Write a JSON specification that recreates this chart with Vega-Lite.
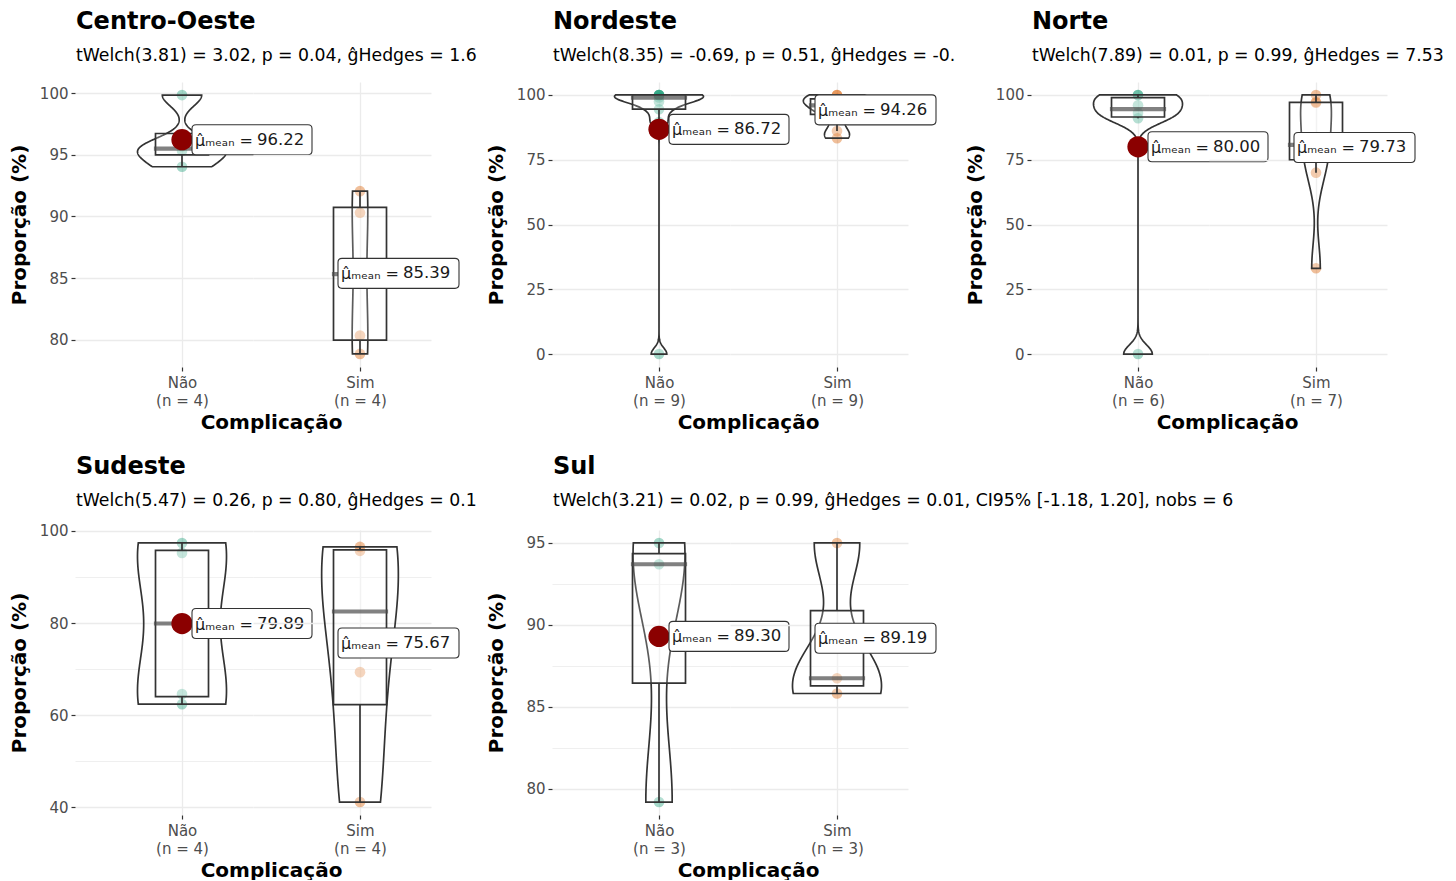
{
  "$schema": "https://vega.github.io/schema/vega-lite/v6.json",
  "padding": {"left": 9, "top": 9, "right": 0, "bottom": 0},
  "spacing": 22,
  "datasets": {
    "pts": [
      {"region": "Centro-Oeste", "grp": "Não", "value": 94.03},
      {"region": "Centro-Oeste", "grp": "Não", "value": 95.32},
      {"region": "Centro-Oeste", "grp": "Não", "value": 95.69},
      {"region": "Centro-Oeste", "grp": "Não", "value": 99.84},
      {"region": "Centro-Oeste", "grp": "Sim", "value": 78.86},
      {"region": "Centro-Oeste", "grp": "Sim", "value": 80.35},
      {"region": "Centro-Oeste", "grp": "Sim", "value": 90.30},
      {"region": "Centro-Oeste", "grp": "Sim", "value": 92.05},
      {"region": "Nordeste", "grp": "Não", "value": 0},
      {"region": "Nordeste", "grp": "Não", "value": 89.5},
      {"region": "Nordeste", "grp": "Não", "value": 94.5},
      {"region": "Nordeste", "grp": "Não", "value": 97.5},
      {"region": "Nordeste", "grp": "Não", "value": 99},
      {"region": "Nordeste", "grp": "Não", "value": 100},
      {"region": "Nordeste", "grp": "Não", "value": 100},
      {"region": "Nordeste", "grp": "Não", "value": 100},
      {"region": "Nordeste", "grp": "Não", "value": 100},
      {"region": "Nordeste", "grp": "Sim", "value": 83.3},
      {"region": "Nordeste", "grp": "Sim", "value": 86.04},
      {"region": "Nordeste", "grp": "Sim", "value": 92.5},
      {"region": "Nordeste", "grp": "Sim", "value": 94.5},
      {"region": "Nordeste", "grp": "Sim", "value": 96},
      {"region": "Nordeste", "grp": "Sim", "value": 97.5},
      {"region": "Nordeste", "grp": "Sim", "value": 98.5},
      {"region": "Nordeste", "grp": "Sim", "value": 100},
      {"region": "Nordeste", "grp": "Sim", "value": 100},
      {"region": "Norte", "grp": "Não", "value": 0},
      {"region": "Norte", "grp": "Não", "value": 91},
      {"region": "Norte", "grp": "Não", "value": 93},
      {"region": "Norte", "grp": "Não", "value": 96},
      {"region": "Norte", "grp": "Não", "value": 100},
      {"region": "Norte", "grp": "Não", "value": 100},
      {"region": "Norte", "grp": "Sim", "value": 33.1},
      {"region": "Norte", "grp": "Sim", "value": 70},
      {"region": "Norte", "grp": "Sim", "value": 80},
      {"region": "Norte", "grp": "Sim", "value": 80.7},
      {"region": "Norte", "grp": "Sim", "value": 97},
      {"region": "Norte", "grp": "Sim", "value": 97.3},
      {"region": "Norte", "grp": "Sim", "value": 100},
      {"region": "Sudeste", "grp": "Não", "value": 62.4},
      {"region": "Sudeste", "grp": "Não", "value": 64.6},
      {"region": "Sudeste", "grp": "Não", "value": 95.2},
      {"region": "Sudeste", "grp": "Não", "value": 97.36},
      {"region": "Sudeste", "grp": "Sim", "value": 41.18},
      {"region": "Sudeste", "grp": "Sim", "value": 69.35},
      {"region": "Sudeste", "grp": "Sim", "value": 95.65},
      {"region": "Sudeste", "grp": "Sim", "value": 96.5},
      {"region": "Sul", "grp": "Não", "value": 79.2},
      {"region": "Sul", "grp": "Não", "value": 93.7},
      {"region": "Sul", "grp": "Não", "value": 95.0},
      {"region": "Sul", "grp": "Sim", "value": 85.82},
      {"region": "Sul", "grp": "Sim", "value": 86.75},
      {"region": "Sul", "grp": "Sim", "value": 95.0}
    ]
  },
  "vconcat": [
    {
      "spacing": 9,
      "hconcat": [
        {
          "data": {"name": "pts"},
          "title": {"text": "Centro-Oeste", "subtitle": "tWelch(3.81) = 3.02, p = 0.04, ĝHedges = 1.6", "limit": 404, "dx": -17},
          "bounds": "flush",
          "spacing": 0,
          "hconcat": [
            {
              "width": 178, "height": 285,
              "transform": [{"filter": "datum.region === 'Centro-Oeste' && datum.grp === 'Não'"}],
              "layer": [
                {"mark": {"type": "point", "filled": true, "size": 113, "opacity": 0.4, "color": "#1B9E77"},
                 "encoding": {"y": {"field": "value", "type": "quantitative", "title": "Proporção (%)", "scale": {"domain": [77.8, 100.9], "nice": false, "zero": false},
                   "axis": {"values": [80, 82.5, 85, 87.5, 90, 92.5, 95, 97.5, 100], "labelExpr": "datum.value % 5 === 0 ? datum.label : ''", "tickOpacity": {"condition": {"test": "datum.value % 5 !== 0", "value": 0}, "value": 1}, "gridWidth": {"condition": {"test": "datum.value % 5 !== 0", "value": 0.8}, "value": 1.3}}}}},
                {"transform": [{"density": "value", "groupby": ["grp"], "bandwidth": 0.88, "extent": [94.03, 99.84], "steps": 200}],
                 "mark": {"type": "area", "orient": "horizontal", "fill": "white", "fillOpacity": 0.2, "stroke": "#333333", "strokeWidth": 1.7},
                 "encoding": {"y": {"field": "value", "type": "quantitative", "title": "Proporção (%)"},
                   "x": {"field": "density", "type": "quantitative", "stack": "center", "impute": null, "scale": {"padding": 44.5, "nice": false}, "axis": {"values": [0.1282], "labelExpr": "['Não', '(n = 4)']", "title": "Complicação", "titleX": 178}}}},
                {"mark": {"type": "boxplot", "extent": 1.5, "size": 53, "outliers": false, "box": {"fill": "white", "fillOpacity": 0.2, "stroke": "#333333", "strokeWidth": 1.7}, "median": {"stroke": "#4D4D4D", "strokeWidth": 3.2}, "rule": {"stroke": "#333333", "strokeWidth": 1.7}},
                 "encoding": {"y": {"field": "value", "type": "quantitative", "title": "Proporção (%)"}}},
                {"mark": {"type": "point", "filled": true, "color": "#8B0000", "size": 452, "opacity": 1},
                 "encoding": {"y": {"aggregate": "mean", "field": "value", "type": "quantitative", "title": "Proporção (%)"}}},
                {"mark": {"type": "point", "shape": "M0.28,-0.3H2.52Q2.6,-0.3 2.6,-0.22V0.22Q2.6,0.3 2.52,0.3H0.28Q0.2,0.3 0.2,0.22V-0.22Q0.2,-0.3 0.28,-0.3Z", "size": 10000, "filled": true, "fill": "white", "stroke": "#333333", "strokeWidth": 1.1, "opacity": 1},
                 "encoding": {"y": {"aggregate": "mean", "field": "value", "type": "quantitative", "title": "Proporção (%)"}}},
                {"mark": {"type": "text", "text": "μ̂ₘₑₐₙ =", "align": "right", "dx": 71, "dy": 1, "fontSize": 16, "color": "#1A1A1A"},
                 "encoding": {"y": {"aggregate": "mean", "field": "value", "type": "quantitative", "title": "Proporção (%)"}}},
                {"mark": {"type": "text", "align": "left", "dx": 75, "fontSize": 16.5, "color": "#1A1A1A"},
                 "encoding": {"y": {"aggregate": "mean", "field": "value", "type": "quantitative", "title": "Proporção (%)"}, "text": {"aggregate": "mean", "field": "value", "type": "quantitative", "format": ".2f"}}}
              ]
            },
            {
              "width": 178, "height": 285,
              "transform": [{"filter": "datum.region === 'Centro-Oeste' && datum.grp === 'Sim'"}],
              "layer": [
                {"mark": {"type": "point", "filled": true, "size": 113, "opacity": 0.4, "color": "#D95F02"},
                 "encoding": {"y": {"field": "value", "type": "quantitative", "title": null, "scale": {"domain": [77.8, 100.9], "nice": false, "zero": false},
                   "axis": {"values": [80, 82.5, 85, 87.5, 90, 92.5, 95, 97.5, 100], "labels": false, "ticks": false, "gridWidth": {"condition": {"test": "datum.value % 5 !== 0", "value": 0.8}, "value": 1.3}}}}},
                {"transform": [{"density": "value", "groupby": ["grp"], "bandwidth": 4.6, "extent": [78.86, 92.05], "steps": 200}],
                 "mark": {"type": "area", "orient": "horizontal", "fill": "white", "fillOpacity": 0.2, "stroke": "#333333", "strokeWidth": 1.7},
                 "encoding": {"y": {"field": "value", "type": "quantitative", "title": null},
                   "x": {"field": "density", "type": "quantitative", "stack": "center", "impute": null, "scale": {"padding": 81.16, "nice": false}, "axis": {"values": [0.0226], "labelExpr": "['Sim', '(n = 4)']", "title": null}}}},
                {"mark": {"type": "boxplot", "extent": 1.5, "size": 53, "outliers": false, "box": {"fill": "white", "fillOpacity": 0.2, "stroke": "#333333", "strokeWidth": 1.7}, "median": {"stroke": "#4D4D4D", "strokeWidth": 3.2}, "rule": {"stroke": "#333333", "strokeWidth": 1.7}},
                 "encoding": {"y": {"field": "value", "type": "quantitative", "title": null}}},
                {"mark": {"type": "point", "filled": true, "color": "#8B0000", "size": 452, "opacity": 1},
                 "encoding": {"y": {"aggregate": "mean", "field": "value", "type": "quantitative", "title": null}}},
                {"mark": {"type": "point", "shape": "M-0.36,-0.3H1.9Q1.98,-0.3 1.98,-0.22V0.22Q1.98,0.3 1.9,0.3H-0.36Q-0.44,0.3 -0.44,0.22V-0.22Q-0.44,-0.3 -0.36,-0.3Z", "size": 10000, "filled": true, "fill": "white", "stroke": "#333333", "strokeWidth": 1.1, "opacity": 1},
                 "encoding": {"y": {"aggregate": "mean", "field": "value", "type": "quantitative", "title": null}}},
                {"mark": {"type": "text", "text": "μ̂ₘₑₐₙ =", "align": "right", "dx": 39, "dy": 1, "fontSize": 16, "color": "#1A1A1A"},
                 "encoding": {"y": {"aggregate": "mean", "field": "value", "type": "quantitative", "title": null}}},
                {"mark": {"type": "text", "align": "left", "dx": 43, "fontSize": 16.5, "color": "#1A1A1A"},
                 "encoding": {"y": {"aggregate": "mean", "field": "value", "type": "quantitative", "title": null}, "text": {"aggregate": "mean", "field": "value", "type": "quantitative", "format": ".2f"}}}
              ]
            }
          ]
        },
        {
          "data": {"name": "pts"},
          "title": {"text": "Nordeste", "subtitle": "tWelch(8.35) = -0.69, p = 0.51, ĝHedges = -0.", "limit": 404, "dx": -17},
          "bounds": "flush",
          "spacing": 0,
          "hconcat": [
            {
              "width": 178, "height": 285,
              "transform": [{"filter": "datum.region === 'Nordeste' && datum.grp === 'Não'"}],
              "layer": [
                {"mark": {"type": "point", "filled": true, "size": 113, "opacity": 0.4, "color": "#1B9E77"},
                 "encoding": {"y": {"field": "value", "type": "quantitative", "title": "Proporção (%)", "scale": {"domain": [-5, 105], "nice": false, "zero": false},
                   "axis": {"values": [0, 12.5, 25, 37.5, 50, 62.5, 75, 87.5, 100], "labelExpr": "datum.value % 25 === 0 ? datum.label : ''", "tickOpacity": {"condition": {"test": "datum.value % 25 !== 0", "value": 0}, "value": 1}, "gridWidth": {"condition": {"test": "datum.value % 25 !== 0", "value": 0.8}, "value": 1.3}}}}},
                {"transform": [{"density": "value", "groupby": ["grp"], "bandwidth": 2.38, "extent": [0, 100], "steps": 500}],
                 "mark": {"type": "area", "orient": "horizontal", "fill": "white", "fillOpacity": 0.2, "stroke": "#333333", "strokeWidth": 1.7},
                 "encoding": {"y": {"field": "value", "type": "quantitative", "title": "Proporção (%)"},
                   "x": {"field": "density", "type": "quantitative", "stack": "center", "impute": null, "scale": {"padding": 44.5, "nice": false}, "axis": {"values": [0.0532], "labelExpr": "['Não', '(n = 9)']", "title": "Complicação", "titleX": 178}}}},
                {"mark": {"type": "boxplot", "extent": 1.5, "size": 53, "outliers": false, "box": {"fill": "white", "fillOpacity": 0.2, "stroke": "#333333", "strokeWidth": 1.7}, "median": {"stroke": "#4D4D4D", "strokeWidth": 3.2}, "rule": {"stroke": "#333333", "strokeWidth": 1.7}},
                 "encoding": {"y": {"field": "value", "type": "quantitative", "title": "Proporção (%)"}}},
                {"mark": {"type": "point", "filled": true, "color": "#8B0000", "size": 452, "opacity": 1},
                 "encoding": {"y": {"aggregate": "mean", "field": "value", "type": "quantitative", "title": "Proporção (%)"}}},
                {"mark": {"type": "point", "shape": "M0.28,-0.3H2.52Q2.6,-0.3 2.6,-0.22V0.22Q2.6,0.3 2.52,0.3H0.28Q0.2,0.3 0.2,0.22V-0.22Q0.2,-0.3 0.28,-0.3Z", "size": 10000, "filled": true, "fill": "white", "stroke": "#333333", "strokeWidth": 1.1, "opacity": 1},
                 "encoding": {"y": {"aggregate": "mean", "field": "value", "type": "quantitative", "title": "Proporção (%)"}}},
                {"mark": {"type": "text", "text": "μ̂ₘₑₐₙ =", "align": "right", "dx": 71, "dy": 1, "fontSize": 16, "color": "#1A1A1A"},
                 "encoding": {"y": {"aggregate": "mean", "field": "value", "type": "quantitative", "title": "Proporção (%)"}}},
                {"mark": {"type": "text", "align": "left", "dx": 75, "fontSize": 16.5, "color": "#1A1A1A"},
                 "encoding": {"y": {"aggregate": "mean", "field": "value", "type": "quantitative", "title": "Proporção (%)"}, "text": {"aggregate": "mean", "field": "value", "type": "quantitative", "format": ".2f"}}}
              ]
            },
            {
              "width": 178, "height": 285,
              "transform": [{"filter": "datum.region === 'Nordeste' && datum.grp === 'Sim'"}],
              "layer": [
                {"mark": {"type": "point", "filled": true, "size": 113, "opacity": 0.4, "color": "#D95F02"},
                 "encoding": {"y": {"field": "value", "type": "quantitative", "title": null, "scale": {"domain": [-5, 105], "nice": false, "zero": false},
                   "axis": {"values": [0, 12.5, 25, 37.5, 50, 62.5, 75, 87.5, 100], "labels": false, "ticks": false, "gridWidth": {"condition": {"test": "datum.value % 25 !== 0", "value": 0.8}, "value": 1.3}}}}},
                {"transform": [{"density": "value", "groupby": ["grp"], "bandwidth": 2.6, "extent": [83.3, 100], "steps": 200}],
                 "mark": {"type": "area", "orient": "horizontal", "fill": "white", "fillOpacity": 0.2, "stroke": "#333333", "strokeWidth": 1.7},
                 "encoding": {"y": {"field": "value", "type": "quantitative", "title": null},
                   "x": {"field": "density", "type": "quantitative", "stack": "center", "impute": null, "scale": {"padding": 55.35, "nice": false}, "axis": {"values": [0.04025], "labelExpr": "['Sim', '(n = 9)']", "title": null}}}},
                {"mark": {"type": "boxplot", "extent": 1.5, "size": 53, "outliers": false, "box": {"fill": "white", "fillOpacity": 0.2, "stroke": "#333333", "strokeWidth": 1.7}, "median": {"stroke": "#4D4D4D", "strokeWidth": 3.2}, "rule": {"stroke": "#333333", "strokeWidth": 1.7}},
                 "encoding": {"y": {"field": "value", "type": "quantitative", "title": null}}},
                {"mark": {"type": "point", "filled": true, "color": "#8B0000", "size": 452, "opacity": 1},
                 "encoding": {"y": {"aggregate": "mean", "field": "value", "type": "quantitative", "title": null}}},
                {"mark": {"type": "point", "shape": "M-0.36,-0.3H1.9Q1.98,-0.3 1.98,-0.22V0.22Q1.98,0.3 1.9,0.3H-0.36Q-0.44,0.3 -0.44,0.22V-0.22Q-0.44,-0.3 -0.36,-0.3Z", "size": 10000, "filled": true, "fill": "white", "stroke": "#333333", "strokeWidth": 1.1, "opacity": 1},
                 "encoding": {"y": {"aggregate": "mean", "field": "value", "type": "quantitative", "title": null}}},
                {"mark": {"type": "text", "text": "μ̂ₘₑₐₙ =", "align": "right", "dx": 39, "dy": 1, "fontSize": 16, "color": "#1A1A1A"},
                 "encoding": {"y": {"aggregate": "mean", "field": "value", "type": "quantitative", "title": null}}},
                {"mark": {"type": "text", "align": "left", "dx": 43, "fontSize": 16.5, "color": "#1A1A1A"},
                 "encoding": {"y": {"aggregate": "mean", "field": "value", "type": "quantitative", "title": null}, "text": {"aggregate": "mean", "field": "value", "type": "quantitative", "format": ".2f"}}}
              ]
            }
          ]
        },
        {
          "data": {"name": "pts"},
          "title": {"text": "Norte", "subtitle": "tWelch(7.89) = 0.01, p = 0.99, ĝHedges = 7.53", "limit": 430, "dx": -17},
          "bounds": "flush",
          "spacing": 0,
          "hconcat": [
            {
              "width": 178, "height": 285,
              "transform": [{"filter": "datum.region === 'Norte' && datum.grp === 'Não'"}],
              "layer": [
                {"mark": {"type": "point", "filled": true, "size": 113, "opacity": 0.4, "color": "#1B9E77"},
                 "encoding": {"y": {"field": "value", "type": "quantitative", "title": "Proporção (%)", "scale": {"domain": [-5, 105], "nice": false, "zero": false},
                   "axis": {"values": [0, 12.5, 25, 37.5, 50, 62.5, 75, 87.5, 100], "labelExpr": "datum.value % 25 === 0 ? datum.label : ''", "tickOpacity": {"condition": {"test": "datum.value % 25 !== 0", "value": 0}, "value": 1}, "gridWidth": {"condition": {"test": "datum.value % 25 !== 0", "value": 0.8}, "value": 1.3}}}}},
                {"transform": [{"density": "value", "groupby": ["grp"], "bandwidth": 3.52, "extent": [0, 100], "steps": 400}],
                 "mark": {"type": "area", "orient": "horizontal", "fill": "white", "fillOpacity": 0.2, "stroke": "#333333", "strokeWidth": 1.7},
                 "encoding": {"y": {"field": "value", "type": "quantitative", "title": "Proporção (%)"},
                   "x": {"field": "density", "type": "quantitative", "stack": "center", "impute": null, "scale": {"padding": 44.5, "nice": false}, "axis": {"values": [0.02945], "labelExpr": "['Não', '(n = 6)']", "title": "Complicação", "titleX": 178}}}},
                {"mark": {"type": "boxplot", "extent": 1.5, "size": 53, "outliers": false, "box": {"fill": "white", "fillOpacity": 0.2, "stroke": "#333333", "strokeWidth": 1.7}, "median": {"stroke": "#4D4D4D", "strokeWidth": 3.2}, "rule": {"stroke": "#333333", "strokeWidth": 1.7}},
                 "encoding": {"y": {"field": "value", "type": "quantitative", "title": "Proporção (%)"}}},
                {"mark": {"type": "point", "filled": true, "color": "#8B0000", "size": 452, "opacity": 1},
                 "encoding": {"y": {"aggregate": "mean", "field": "value", "type": "quantitative", "title": "Proporção (%)"}}},
                {"mark": {"type": "point", "shape": "M0.28,-0.3H2.52Q2.6,-0.3 2.6,-0.22V0.22Q2.6,0.3 2.52,0.3H0.28Q0.2,0.3 0.2,0.22V-0.22Q0.2,-0.3 0.28,-0.3Z", "size": 10000, "filled": true, "fill": "white", "stroke": "#333333", "strokeWidth": 1.1, "opacity": 1},
                 "encoding": {"y": {"aggregate": "mean", "field": "value", "type": "quantitative", "title": "Proporção (%)"}}},
                {"mark": {"type": "text", "text": "μ̂ₘₑₐₙ =", "align": "right", "dx": 71, "dy": 1, "fontSize": 16, "color": "#1A1A1A"},
                 "encoding": {"y": {"aggregate": "mean", "field": "value", "type": "quantitative", "title": "Proporção (%)"}}},
                {"mark": {"type": "text", "align": "left", "dx": 75, "fontSize": 16.5, "color": "#1A1A1A"},
                 "encoding": {"y": {"aggregate": "mean", "field": "value", "type": "quantitative", "title": "Proporção (%)"}, "text": {"aggregate": "mean", "field": "value", "type": "quantitative", "format": ".2f"}}}
              ]
            },
            {
              "width": 178, "height": 285,
              "transform": [{"filter": "datum.region === 'Norte' && datum.grp === 'Sim'"}],
              "layer": [
                {"mark": {"type": "point", "filled": true, "size": 113, "opacity": 0.4, "color": "#D95F02"},
                 "encoding": {"y": {"field": "value", "type": "quantitative", "title": null, "scale": {"domain": [-5, 105], "nice": false, "zero": false},
                   "axis": {"values": [0, 12.5, 25, 37.5, 50, 62.5, 75, 87.5, 100], "labels": false, "ticks": false, "gridWidth": {"condition": {"test": "datum.value % 25 !== 0", "value": 0.8}, "value": 1.3}}}}},
                {"transform": [{"density": "value", "groupby": ["grp"], "bandwidth": 10.07, "extent": [33.1, 100], "steps": 200}],
                 "mark": {"type": "area", "orient": "horizontal", "fill": "white", "fillOpacity": 0.2, "stroke": "#333333", "strokeWidth": 1.7},
                 "encoding": {"y": {"field": "value", "type": "quantitative", "title": null},
                   "x": {"field": "density", "type": "quantitative", "stack": "center", "impute": null, "scale": {"padding": 73.6, "nice": false}, "axis": {"values": [0.0102], "labelExpr": "['Sim', '(n = 7)']", "title": null}}}},
                {"mark": {"type": "boxplot", "extent": 1.5, "size": 53, "outliers": false, "box": {"fill": "white", "fillOpacity": 0.2, "stroke": "#333333", "strokeWidth": 1.7}, "median": {"stroke": "#4D4D4D", "strokeWidth": 3.2}, "rule": {"stroke": "#333333", "strokeWidth": 1.7}},
                 "encoding": {"y": {"field": "value", "type": "quantitative", "title": null}}},
                {"mark": {"type": "point", "filled": true, "color": "#8B0000", "size": 452, "opacity": 1},
                 "encoding": {"y": {"aggregate": "mean", "field": "value", "type": "quantitative", "title": null}}},
                {"mark": {"type": "point", "shape": "M-0.36,-0.3H1.9Q1.98,-0.3 1.98,-0.22V0.22Q1.98,0.3 1.9,0.3H-0.36Q-0.44,0.3 -0.44,0.22V-0.22Q-0.44,-0.3 -0.36,-0.3Z", "size": 10000, "filled": true, "fill": "white", "stroke": "#333333", "strokeWidth": 1.1, "opacity": 1},
                 "encoding": {"y": {"aggregate": "mean", "field": "value", "type": "quantitative", "title": null}}},
                {"mark": {"type": "text", "text": "μ̂ₘₑₐₙ =", "align": "right", "dx": 39, "dy": 1, "fontSize": 16, "color": "#1A1A1A"},
                 "encoding": {"y": {"aggregate": "mean", "field": "value", "type": "quantitative", "title": null}}},
                {"mark": {"type": "text", "align": "left", "dx": 43, "fontSize": 16.5, "color": "#1A1A1A"},
                 "encoding": {"y": {"aggregate": "mean", "field": "value", "type": "quantitative", "title": null}, "text": {"aggregate": "mean", "field": "value", "type": "quantitative", "format": ".2f"}}}
              ]
            }
          ]
        }
      ]
    },
    {
      "spacing": 9,
      "hconcat": [
        {
          "data": {"name": "pts"},
          "title": {"text": "Sudeste", "subtitle": "tWelch(5.47) = 0.26, p = 0.80, ĝHedges = 0.1", "limit": 404, "dx": -17, "dy": 4},
          "bounds": "flush",
          "spacing": 0,
          "hconcat": [
            {
              "width": 178, "height": 285,
              "transform": [{"filter": "datum.region === 'Sudeste' && datum.grp === 'Não'"}],
              "layer": [
                {"mark": {"type": "point", "filled": true, "size": 113, "opacity": 0.4, "color": "#1B9E77"},
                 "encoding": {"y": {"field": "value", "type": "quantitative", "title": "Proporção (%)", "scale": {"domain": [38.37, 100.17], "nice": false, "zero": false},
                   "axis": {"values": [40, 50, 60, 70, 80, 90, 100], "labelExpr": "datum.value % 20 === 0 ? datum.label : ''", "tickOpacity": {"condition": {"test": "datum.value % 20 !== 0", "value": 0}, "value": 1}, "gridWidth": {"condition": {"test": "datum.value % 20 !== 0", "value": 0.8}, "value": 1.3}}}}},
                {"transform": [{"density": "value", "groupby": ["grp"], "bandwidth": 12.95, "extent": [62.4, 97.36], "steps": 200}],
                 "mark": {"type": "area", "orient": "horizontal", "fill": "white", "fillOpacity": 0.2, "stroke": "#333333", "strokeWidth": 1.7},
                 "encoding": {"y": {"field": "value", "type": "quantitative", "title": "Proporção (%)"},
                   "x": {"field": "density", "type": "quantitative", "stack": "center", "impute": null, "scale": {"padding": 44.5, "nice": false}, "axis": {"values": [0.00805], "labelExpr": "['Não', '(n = 4)']", "title": "Complicação", "titleX": 178}}}},
                {"mark": {"type": "boxplot", "extent": 1.5, "size": 53, "outliers": false, "box": {"fill": "white", "fillOpacity": 0.2, "stroke": "#333333", "strokeWidth": 1.7}, "median": {"stroke": "#4D4D4D", "strokeWidth": 3.2}, "rule": {"stroke": "#333333", "strokeWidth": 1.7}},
                 "encoding": {"y": {"field": "value", "type": "quantitative", "title": "Proporção (%)"}}},
                {"mark": {"type": "point", "filled": true, "color": "#8B0000", "size": 452, "opacity": 1},
                 "encoding": {"y": {"aggregate": "mean", "field": "value", "type": "quantitative", "title": "Proporção (%)"}}},
                {"mark": {"type": "point", "shape": "M0.28,-0.3H2.52Q2.6,-0.3 2.6,-0.22V0.22Q2.6,0.3 2.52,0.3H0.28Q0.2,0.3 0.2,0.22V-0.22Q0.2,-0.3 0.28,-0.3Z", "size": 10000, "filled": true, "fill": "white", "stroke": "#333333", "strokeWidth": 1.1, "opacity": 1},
                 "encoding": {"y": {"aggregate": "mean", "field": "value", "type": "quantitative", "title": "Proporção (%)"}}},
                {"mark": {"type": "text", "text": "μ̂ₘₑₐₙ =", "align": "right", "dx": 71, "dy": 1, "fontSize": 16, "color": "#1A1A1A"},
                 "encoding": {"y": {"aggregate": "mean", "field": "value", "type": "quantitative", "title": "Proporção (%)"}}},
                {"mark": {"type": "text", "align": "left", "dx": 75, "fontSize": 16.5, "color": "#1A1A1A"},
                 "encoding": {"y": {"aggregate": "mean", "field": "value", "type": "quantitative", "title": "Proporção (%)"}, "text": {"aggregate": "mean", "field": "value", "type": "quantitative", "format": ".2f"}}}
              ]
            },
            {
              "width": 178, "height": 285,
              "transform": [{"filter": "datum.region === 'Sudeste' && datum.grp === 'Sim'"}],
              "layer": [
                {"mark": {"type": "point", "filled": true, "size": 113, "opacity": 0.4, "color": "#D95F02"},
                 "encoding": {"y": {"field": "value", "type": "quantitative", "title": null, "scale": {"domain": [38.37, 100.17], "nice": false, "zero": false},
                   "axis": {"values": [40, 50, 60, 70, 80, 90, 100], "labels": false, "ticks": false, "gridWidth": {"condition": {"test": "datum.value % 20 !== 0", "value": 0.8}, "value": 1.3}}}}},
                {"transform": [{"density": "value", "groupby": ["grp"], "bandwidth": 17.08, "extent": [41.18, 96.5], "steps": 200}],
                 "mark": {"type": "area", "orient": "horizontal", "fill": "white", "fillOpacity": 0.2, "stroke": "#333333", "strokeWidth": 1.7},
                 "encoding": {"y": {"field": "value", "type": "quantitative", "title": null},
                   "x": {"field": "density", "type": "quantitative", "stack": "center", "impute": null, "scale": {"padding": 50.65, "nice": false}, "axis": {"values": [0.006935], "labelExpr": "['Sim', '(n = 4)']", "title": null}}}},
                {"mark": {"type": "boxplot", "extent": 1.5, "size": 53, "outliers": false, "box": {"fill": "white", "fillOpacity": 0.2, "stroke": "#333333", "strokeWidth": 1.7}, "median": {"stroke": "#4D4D4D", "strokeWidth": 3.2}, "rule": {"stroke": "#333333", "strokeWidth": 1.7}},
                 "encoding": {"y": {"field": "value", "type": "quantitative", "title": null}}},
                {"mark": {"type": "point", "filled": true, "color": "#8B0000", "size": 452, "opacity": 1},
                 "encoding": {"y": {"aggregate": "mean", "field": "value", "type": "quantitative", "title": null}}},
                {"mark": {"type": "point", "shape": "M-0.36,-0.3H1.9Q1.98,-0.3 1.98,-0.22V0.22Q1.98,0.3 1.9,0.3H-0.36Q-0.44,0.3 -0.44,0.22V-0.22Q-0.44,-0.3 -0.36,-0.3Z", "size": 10000, "filled": true, "fill": "white", "stroke": "#333333", "strokeWidth": 1.1, "opacity": 1},
                 "encoding": {"y": {"aggregate": "mean", "field": "value", "type": "quantitative", "title": null}}},
                {"mark": {"type": "text", "text": "μ̂ₘₑₐₙ =", "align": "right", "dx": 39, "dy": 1, "fontSize": 16, "color": "#1A1A1A"},
                 "encoding": {"y": {"aggregate": "mean", "field": "value", "type": "quantitative", "title": null}}},
                {"mark": {"type": "text", "align": "left", "dx": 43, "fontSize": 16.5, "color": "#1A1A1A"},
                 "encoding": {"y": {"aggregate": "mean", "field": "value", "type": "quantitative", "title": null}, "text": {"aggregate": "mean", "field": "value", "type": "quantitative", "format": ".2f"}}}
              ]
            }
          ]
        },
        {
          "data": {"name": "pts"},
          "title": {"text": "Sul", "subtitle": "tWelch(3.21) = 0.02, p = 0.99, ĝHedges = 0.01, CI95% [-1.18, 1.20], nobs = 6", "limit": 800, "dx": -17, "dy": -3},
          "bounds": "flush",
          "spacing": 0,
          "hconcat": [
            {
              "width": 178, "height": 285,
              "transform": [{"filter": "datum.region === 'Sul' && datum.grp === 'Não'"}],
              "layer": [
                {"mark": {"type": "point", "filled": true, "size": 113, "opacity": 0.4, "color": "#1B9E77"},
                 "encoding": {"y": {"field": "value", "type": "quantitative", "title": "Proporção (%)", "scale": {"domain": [78.41, 95.79], "nice": false, "zero": false},
                   "axis": {"values": [80, 82.5, 85, 87.5, 90, 92.5, 95], "labelExpr": "datum.value % 5 === 0 ? datum.label : ''", "tickOpacity": {"condition": {"test": "datum.value % 5 !== 0", "value": 0}, "value": 1}, "gridWidth": {"condition": {"test": "datum.value % 5 !== 0", "value": 0.8}, "value": 1.3}}}}},
                {"transform": [{"density": "value", "groupby": ["grp"], "bandwidth": 4.26, "extent": [79.2, 95.0], "steps": 200}],
                 "mark": {"type": "area", "orient": "horizontal", "fill": "white", "fillOpacity": 0.2, "stroke": "#333333", "strokeWidth": 1.7},
                 "encoding": {"y": {"field": "value", "type": "quantitative", "title": "Proporção (%)"},
                   "x": {"field": "density", "type": "quantitative", "stack": "center", "impute": null, "scale": {"padding": 63.05, "nice": false}, "axis": {"values": [0.0309], "labelExpr": "['Não', '(n = 3)']", "title": "Complicação", "titleX": 178}}}},
                {"mark": {"type": "boxplot", "extent": 1.5, "size": 53, "outliers": false, "box": {"fill": "white", "fillOpacity": 0.2, "stroke": "#333333", "strokeWidth": 1.7}, "median": {"stroke": "#4D4D4D", "strokeWidth": 3.2}, "rule": {"stroke": "#333333", "strokeWidth": 1.7}},
                 "encoding": {"y": {"field": "value", "type": "quantitative", "title": "Proporção (%)"}}},
                {"mark": {"type": "point", "filled": true, "color": "#8B0000", "size": 452, "opacity": 1},
                 "encoding": {"y": {"aggregate": "mean", "field": "value", "type": "quantitative", "title": "Proporção (%)"}}},
                {"mark": {"type": "point", "shape": "M0.28,-0.3H2.52Q2.6,-0.3 2.6,-0.22V0.22Q2.6,0.3 2.52,0.3H0.28Q0.2,0.3 0.2,0.22V-0.22Q0.2,-0.3 0.28,-0.3Z", "size": 10000, "filled": true, "fill": "white", "stroke": "#333333", "strokeWidth": 1.1, "opacity": 1},
                 "encoding": {"y": {"aggregate": "mean", "field": "value", "type": "quantitative", "title": "Proporção (%)"}}},
                {"mark": {"type": "text", "text": "μ̂ₘₑₐₙ =", "align": "right", "dx": 71, "dy": 1, "fontSize": 16, "color": "#1A1A1A"},
                 "encoding": {"y": {"aggregate": "mean", "field": "value", "type": "quantitative", "title": "Proporção (%)"}}},
                {"mark": {"type": "text", "align": "left", "dx": 75, "fontSize": 16.5, "color": "#1A1A1A"},
                 "encoding": {"y": {"aggregate": "mean", "field": "value", "type": "quantitative", "title": "Proporção (%)"}, "text": {"aggregate": "mean", "field": "value", "type": "quantitative", "format": ".2f"}}}
              ]
            },
            {
              "width": 178, "height": 285,
              "transform": [{"filter": "datum.region === 'Sul' && datum.grp === 'Sim'"}],
              "layer": [
                {"mark": {"type": "point", "filled": true, "size": 113, "opacity": 0.4, "color": "#D95F02"},
                 "encoding": {"y": {"field": "value", "type": "quantitative", "title": null, "scale": {"domain": [78.41, 95.79], "nice": false, "zero": false},
                   "axis": {"values": [80, 82.5, 85, 87.5, 90, 92.5, 95], "labels": false, "ticks": false, "gridWidth": {"condition": {"test": "datum.value % 5 !== 0", "value": 0.8}, "value": 1.3}}}}},
                {"transform": [{"density": "value", "groupby": ["grp"], "bandwidth": 2.47, "extent": [85.82, 95.0], "steps": 200}],
                 "mark": {"type": "area", "orient": "horizontal", "fill": "white", "fillOpacity": 0.2, "stroke": "#333333", "strokeWidth": 1.7},
                 "encoding": {"y": {"field": "value", "type": "quantitative", "title": null},
                   "x": {"field": "density", "type": "quantitative", "stack": "center", "impute": null, "scale": {"padding": 44.5, "nice": false}, "axis": {"values": [0.05295], "labelExpr": "['Sim', '(n = 3)']", "title": null}}}},
                {"mark": {"type": "boxplot", "extent": 1.5, "size": 53, "outliers": false, "box": {"fill": "white", "fillOpacity": 0.2, "stroke": "#333333", "strokeWidth": 1.7}, "median": {"stroke": "#4D4D4D", "strokeWidth": 3.2}, "rule": {"stroke": "#333333", "strokeWidth": 1.7}},
                 "encoding": {"y": {"field": "value", "type": "quantitative", "title": null}}},
                {"mark": {"type": "point", "filled": true, "color": "#8B0000", "size": 452, "opacity": 1},
                 "encoding": {"y": {"aggregate": "mean", "field": "value", "type": "quantitative", "title": null}}},
                {"mark": {"type": "point", "shape": "M-0.36,-0.3H1.9Q1.98,-0.3 1.98,-0.22V0.22Q1.98,0.3 1.9,0.3H-0.36Q-0.44,0.3 -0.44,0.22V-0.22Q-0.44,-0.3 -0.36,-0.3Z", "size": 10000, "filled": true, "fill": "white", "stroke": "#333333", "strokeWidth": 1.1, "opacity": 1},
                 "encoding": {"y": {"aggregate": "mean", "field": "value", "type": "quantitative", "title": null}}},
                {"mark": {"type": "text", "text": "μ̂ₘₑₐₙ =", "align": "right", "dx": 39, "dy": 1, "fontSize": 16, "color": "#1A1A1A"},
                 "encoding": {"y": {"aggregate": "mean", "field": "value", "type": "quantitative", "title": null}}},
                {"mark": {"type": "text", "align": "left", "dx": 43, "fontSize": 16.5, "color": "#1A1A1A"},
                 "encoding": {"y": {"aggregate": "mean", "field": "value", "type": "quantitative", "title": null}, "text": {"aggregate": "mean", "field": "value", "type": "quantitative", "format": ".2f"}}}
              ]
            }
          ]
        }
      ]
    }
  ],
  "config": {
    "font": "DejaVu Sans",
    "view": {"stroke": null},
    "axisY": {"grid": true, "gridColor": "#EBEBEB", "domain": false, "offset": 18, "minExtent": 36, "tickColor": "#333333", "tickSize": 4, "tickWidth": 1.2, "labelColor": "#4D4D4D", "labelFontSize": 15, "labelPadding": 3, "titleFontSize": 20, "titleFontWeight": "bold", "titleColor": "black", "titlePadding": 10},
    "axisX": {"grid": true, "gridColor": "#EBEBEB", "gridWidth": 1.3, "domain": false, "ticks": true, "tickSize": 4, "tickWidth": 1.2, "tickColor": "#333333", "labelColor": "#4D4D4D", "labelFontSize": 15, "labelPadding": 4, "labelLineHeight": 18, "labelFlush": false, "labelOverlap": false, "titleFontSize": 20, "titleFontWeight": "bold", "titleColor": "black", "titlePadding": 4},
    "title": {"anchor": "start", "frame": "group", "fontSize": 24, "fontWeight": "bold", "color": "black", "subtitleFontSize": 17.3, "subtitleColor": "black", "subtitlePadding": 13, "offset": 18}
  }
}
